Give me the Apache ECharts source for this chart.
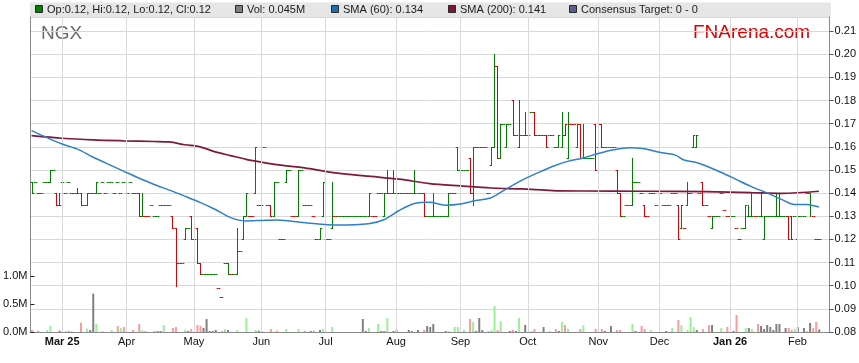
<!DOCTYPE html>
<html><head><meta charset="utf-8">
<script src="https://cdn.jsdelivr.net/npm/echarts@6/dist/echarts.min.js"></script>
<style>html,body{margin:0;padding:0;background:#fff}#c{width:859px;height:363px}</style>
</head><body><div id="c"></div>
<script>
// ---------- data ----------
const firstDay = [2025, 1, 17];   // weekday axis starts Mon 17 Feb 2025
const dayCount = 261;
const monthTickIdx  = [10, 31, 53, 75, 96, 119, 140, 162, 185, 205, 228, 250];
const monthTickText = ['Mar 25','Apr','May','Jun','Jul','Aug','Sep','Oct','Nov','Dec','Jan 26','Feb'];
const boldTicks = ['Mar 25', 'Jan 26'];

const open = [.145,.145,.14,.14,.145,.145,.145,.15,.14,.135,
 .145,.14,.145,.14,.14,.14,.14,.135,.135,.14,
 .14,.14,.14,.145,.14,.145,.145,.14,.145,.14,
 .145,.14,.145,.14,.14,.14,.13,.13,.13,.135,
 .13,.13,.135,.135,.135,.135,.13,.125,.11,.11,
 .12,.125,.13,.12,.125,.11,.105,.105,.105,.105,
 .105,.099,.095,.11,.11,.105,.105,.105,.115,.12,
 .13,.13,.13,.14,.135,.135,.16,.135,.135,.13,
 .145,.12,.12,.145,.15,.13,.13,.13,.15,.135,
 .135,.135,.13,.12,.12,.13,.12,.12,.125,.13,
 .13,.13,.13,.13,.13,.13,.13,.13,.13,.13,
 .13,.13,.13,.14,.14,.13,.14,.14,.14,.14,
 .14,.14,.14,.14,.14,.14,.14,.14,.14,.13,
 .13,.13,.13,.13,.13,.13,.13,.14,.14,.16,
 .15,.15,.15,.155,.14,.16,.16,.16,.16,.14,
 .152,.16,.195,.155,.17,.16,.17,.18,.165,.16,
 .165,.165,.165,.175,.175,.165,.165,.165,.165,.165,
 .165,.16,.16,.16,.165,.155,.17,.17,.16,.17,
 .155,.155,.155,.155,.17,.16,.17,.16,.16,.16,
 .16,.15,.14,.13,.135,.135,.135,.145,.145,.14,
 .135,.13,.14,.14,.135,.14,.135,.135,.135,.14,
 .14,.135,.125,.125,.135,.14,.16,.16,.14,.145,
 .135,.13,.125,.13,.13,.14,.1325,.13,.13,.13,
 .125,.12,.125,.125,.13,.13,.13,.13,.13,.12,
 .13,.13,.13,.13,.13,.13,.13,.13,.13,.13,
 .12,.13,.13,.14,.14,.13,.12,.12,null,null,null];

const high = [.145,.145,.14,.14,.145,.145,.15,.15,.14,.14,
 .145,.14,.145,.14,.14,.142,.14,.135,.14,.14,
 .14,.145,.14,.145,.14,.145,.145,.14,.145,.14,
 .145,.14,.145,.14,.14,.14,.14,.13,.13,.135,
 .13,.13,.135,.135,.135,.135,.13,.125,.11,.11,
 .125,.125,.13,.12,.125,.11,.105,.105,.105,.105,
 .105,.099,.095,.11,.11,.105,.105,.125,.115,.13,
 .14,.13,.13,.16,.135,.135,.16,.135,.135,.145,
 .145,.12,.12,.15,.15,.13,.13,.15,.15,.135,
 .135,.135,.13,.12,.125,.145,.12,.12,.145,.13,
 .13,.13,.13,.13,.13,.13,.13,.13,.13,.13,
 .14,.13,.13,.14,.14,.14,.15,.14,.15,.15,
 .14,.14,.14,.14,.14,.15,.14,.14,.14,.13,
 .13,.14,.13,.13,.13,.13,.14,.14,.14,.16,
 .15,.15,.15,.155,.16,.16,.16,.16,.16,.14,
 .16,.20,.195,.17,.17,.17,.17,.18,.165,.18,
 .165,.175,.165,.175,.175,.165,.165,.165,.165,.165,
 .165,.16,.165,.175,.17,.175,.17,.17,.17,.17,
 .17,.155,.155,.155,.17,.17,.17,.16,.16,.16,
 .16,.15,.14,.13,.135,.135,.155,.145,.145,.14,
 .135,.13,.14,.14,.135,.14,.135,.135,.135,.14,
 .14,.135,.135,.125,.145,.14,.165,.165,.14,.145,
 .135,.13,.13,.13,.13,.14,.1325,.13,.13,.13,
 .125,.12,.125,.135,.135,.14,.13,.13,.14,.13,
 .13,.13,.13,.14,.14,.13,.13,.13,.13,.13,
 .13,.13,.13,.14,.14,.13,.12,.12,null,null,null];

const low = [.14,.145,.14,.14,.145,.145,.145,.15,.135,.135,
 .145,.14,.145,.14,.14,.14,.135,.135,.135,.14,
 .14,.14,.14,.145,.14,.145,.145,.14,.145,.14,
 .145,.14,.145,.14,.14,.13,.13,.13,.13,.135,
 .13,.13,.135,.135,.135,.135,.125,.10,.11,.11,
 .12,.125,.12,.12,.11,.105,.105,.105,.105,.105,
 .105,.099,.095,.11,.105,.105,.105,.105,.115,.12,
 .13,.13,.13,.14,.135,.135,.16,.135,.13,.13,
 .145,.12,.12,.145,.15,.13,.13,.13,.15,.135,
 .135,.135,.13,.12,.12,.13,.12,.12,.125,.13,
 .13,.13,.13,.13,.13,.13,.13,.13,.13,.13,
 .13,.13,.13,.14,.14,.13,.14,.14,.14,.14,
 .14,.14,.14,.14,.14,.14,.14,.14,.13,.13,
 .13,.13,.13,.13,.13,.13,.13,.14,.14,.15,
 .15,.15,.15,.14,.135,.16,.16,.16,.16,.14,
 .152,.16,.155,.155,.17,.16,.17,.165,.165,.16,
 .165,.165,.165,.175,.165,.165,.165,.165,.16,.165,
 .165,.16,.16,.16,.165,.155,.17,.17,.16,.155,
 .155,.155,.155,.155,.15,.16,.16,.16,.16,.16,
 .16,.14,.13,.13,.135,.135,.135,.145,.145,.14,
 .13,.13,.14,.14,.135,.14,.135,.135,.135,.14,
 .14,.12,.125,.125,.135,.14,.16,.16,.14,.135,
 .135,.13,.125,.13,.13,.14,.1325,.13,.13,.13,
 .125,.12,.125,.125,.13,.13,.13,.13,.13,.12,
 .13,.13,.13,.13,.13,.13,.13,.12,.12,.13,
 .12,.13,.13,.14,.13,.13,.12,.12,null,null,null];

const close = [.14,.145,.14,.14,.145,.145,.15,.15,.135,.135,
 .145,.14,.145,.14,.14,.14,.135,.135,.14,.14,
 .14,.145,.14,.145,.14,.145,.145,.14,.145,.14,
 .145,.14,.145,.14,.14,.13,.13,.13,.13,.135,
 .13,.13,.135,.135,.135,.135,.125,.11,.11,.11,
 .125,.125,.12,.12,.11,.105,.105,.105,.105,.105,
 .105,.099,.095,.11,.105,.105,.105,.115,.115,.13,
 .14,.13,.13,.16,.135,.135,.16,.135,.13,.145,
 .145,.12,.12,.15,.15,.13,.13,.15,.15,.135,
 .135,.135,.13,.12,.125,.145,.12,.12,.13,.13,
 .13,.13,.13,.13,.13,.13,.13,.13,.13,.13,
 .14,.13,.13,.14,.14,.14,.14,.14,.14,.14,
 .14,.14,.14,.14,.14,.14,.14,.14,.13,.13,
 .13,.13,.13,.13,.13,.13,.14,.14,.14,.15,
 .15,.15,.15,.14,.16,.16,.16,.16,.16,.14,
 .16,.195,.155,.17,.17,.17,.17,.165,.165,.165,
 .165,.165,.165,.175,.165,.165,.165,.165,.16,.165,
 .165,.16,.165,.165,.17,.17,.17,.17,.17,.155,
 .155,.155,.155,.155,.15,.17,.16,.16,.16,.16,
 .16,.14,.13,.13,.135,.135,.145,.145,.145,.14,
 .13,.13,.14,.14,.135,.14,.135,.135,.135,.14,
 .14,.12,.135,.125,.14,.14,.165,.165,.14,.135,
 .135,.13,.13,.13,.13,.14,.1325,.13,.13,.13,
 .125,.12,.125,.135,.13,.13,.13,.13,.13,.13,
 .13,.13,.13,.13,.13,.13,.13,.12,.12,.13,
 .13,.13,.13,.14,.135,.13,.12,.12,null,null,null];

// 1 = up day (green), 0 = down day (red)
const upDay = [1,1,0,0,1,1,1,1,0,1, 1,0,1,0,0,1,0,1,1,1, 1,1,0,1,0,1,1,0,1,0,
 1,0,1,0,0,0,1,0,0,1, 1,1,1,1,1,1,0,0,1,1, 1,1,0,0,0,0,1,1,1,1,
 1,0,0,1,1,0,1,1,1,1, 1,0,0,1,0,0,1,0,0,1, 1,0,0,1,1,0,0,1,1,0,
 1,1,0,0,1,1,0,0,1,0, 1,1,1,1,1,1,1,1,1,1, 1,0,0,1,1,1,1,0,1,1,
 1,1,1,1,1,1,1,1,0,1, 1,1,1,1,1,1,1,1,0,1, 1,1,1,0,1,1,1,1,1,0,
 1,1,0,1,1,1,1,0,0,1, 0,1,1,1,0,0,0,0,0,1, 1,0,1,1,0,1,0,0,1,0,
 1,1,1,1,0,1,0,1,1,1, 1,0,0,1,1,1,1,1,1,0, 0,0,1,1,0,1,1,1,1,1,
 1,0,1,0,1,1,1,1,1,0, 0,0,1,1,1,1,0,0,1,1, 0,0,1,1,1,1,0,1,1,1,
 1,1,1,1,1,1,1,0,0,1, 1,1,1,1,1,0,0,0,0,0,0];

// volume (millions): day index, value, tone (1 up, 0 down, 2 unchanged)
const volDay = [0,2,5,6,9,11,12,13,16,18,19,20,21,23,26,28,29,30,33,35,36,37,40,41,42,43,46,47,50,51,52,54,55,56,57,58,59,60,62,63,64,67,70,73,74,75,78,80,83,87,89,91,92,94,95,98,108,109,110,113,114,115,116,118,119,123,124,126,128,129,130,131,135,136,138,139,141,143,144,145,146,147,149,150,151,152,153,156,157,158,159,161,163,164,167,169,171,172,173,174,175,179,180,184,186,187,189,191,192,196,197,199,200,202,207,209,211,212,214,215,216,217,219,221,222,225,227,229,230,233,234,235,237,238,239,240,241,242,243,244,246,247,248,249,250,252,253,254,255,256,257];
const volume = [.035,.024,.036,.107,.024,.018,.024,.018,.167,.06,.036,.685,.143,.018,.036,.107,.071,.089,.036,.143,.036,.018,.018,.018,.018,.125,.071,.089,.036,.018,.054,.125,.113,.071,.232,.018,.018,.036,.018,.048,.036,.036,.25,.036,.024,.018,.054,.024,.054,.054,.024,.018,.024,.036,.054,.089,.232,.018,.071,.143,.018,.018,.25,.018,.036,.036,.018,.036,.036,.107,.089,.143,.018,.018,.089,.089,.036,.232,.179,.018,.25,.036,.018,.036,.464,.036,.196,.018,.036,.018,.25,.125,.018,.054,.089,.018,.054,.018,.179,.125,.054,.054,.125,.054,.054,.018,.107,.036,.036,.143,.018,.107,.054,.036,.018,.071,.214,.125,.036,.268,.089,.036,.054,.125,.125,.071,.089,.018,.304,.071,.071,.054,.143,.107,.054,.125,.089,.036,.143,.143,.071,.071,.036,.054,.089,.071,.018,.161,.071,.179,.045];
const volTone = [0,0,1,1,2,1,0,1,0,1,2,2,1,1,1,0,1,0,0,0,1,0,0,2,2,1,0,0,1,2,0,0,0,2,2,2,2,2,0,1,2,1,1,1,2,0,0,0,1,1,0,2,0,2,1,1,2,2,1,1,2,2,1,2,2,2,2,2,0,2,2,2,2,1,1,1,1,0,1,2,2,2,0,1,1,0,1,2,0,2,1,2,1,0,2,1,0,2,1,0,1,0,1,0,0,2,2,0,0,1,2,0,0,1,2,1,0,1,1,1,1,2,0,0,2,1,0,2,0,1,2,1,0,2,2,2,2,2,2,2,2,0,0,1,2,2,1,2,0,0,2];

// moving averages: day index / value
const sma60Day = [0,5,10,15,20,25,30,35,40,45,50,55,60,65,70,75,80,90,100,110,115,120,125,130,135,140,145,150,155,160,165,170,175,180,185,190,195,200,205,210,213,217,220,225,230,235,240,245,249,253,257];
const sma60 = [.167,.164,.1612,.159,.1556,.1525,.1495,.1465,.1437,.1413,.1387,.136,.1329,.1294,.128,.1282,.1284,.1271,.1262,.1268,.1285,.1325,.1355,.136,.1348,.1353,.1368,.138,.1418,.1455,.1486,.1515,.1537,.1552,.1571,.1587,.1596,.1592,.1576,.1565,.1543,.1532,.1518,.149,.1459,.1428,.1401,.1372,.1351,.1351,.134];
const sma200Day = [0,10,20,30,40,45,50,55,60,65,70,75,80,90,100,110,120,130,140,150,160,170,180,200,220,235,245,257];
const sma200 = [.1648,.1637,.163,.1626,.1623,.1621,.1609,.160,.1578,.1562,.1546,.1534,.1523,.1507,.1486,.1473,.146,.1441,.1431,.1422,.1418,.1411,.1409,.1408,.1406,.1402,.1399,.1408];

const legendItems = [
  {text: 'Op:0.12, Hi:0.12, Lo:0.12, Cl:0.12', color: '#008000'},
  {text: 'Vol: 0.045M', color: '#808080'},
  {text: 'SMA (60): 0.134', color: '#1f6fb0'},
  {text: 'SMA (200): 0.141', color: '#7d1535'},
  {text: 'Consensus Target: 0 - 0', color: '#5b5f8e'}
];

// ---------- build ----------
const categories = [];
(function () {
  const d = new Date(Date.UTC(firstDay[0], firstDay[1], firstDay[2]));
  while (categories.length < dayCount) {
    const w = d.getUTCDay();
    if (w !== 0 && w !== 6) categories.push(d.toISOString().slice(0, 10));
    d.setUTCDate(d.getUTCDate() + 1);
  }
})();
const tickLabel = {};
monthTickIdx.forEach((i, k) => tickLabel[i] = monthTickText[k]);

const ohlc = [];
for (let i = 0; i < dayCount; i++) {
  if (close[i] == null) continue;
  ohlc.push([i, open[i], high[i], low[i], close[i], upDay[i]]);
}
const toneColor = ['#ff9a9a', '#99f099', '#808080'];
const volData = volDay.map((d, k) => ({value: [d, volume[k]], itemStyle: {color: toneColor[volTone[k]]}}));

const FONT = '"Liberation Sans", Arial, sans-serif';
const GREEN = '#008000', RED = '#dd0000';

function renderOHLC(params, api) {
  const i = api.value(0);
  const o = api.value(1), h = api.value(2), l = api.value(3), c = api.value(4);
  const up = api.value(5);
  if (isNaN(c)) return;
  const col = up ? GREEN : RED;
  const px = api.coord([i, c])[0];
  const x = Math.round(px) + 0.5;
  const half = api.size([1, 0])[0] / 2 + 0.3;
  const r = v => Math.round(v) + 0.5;
  const yO = r(api.coord([i, o])[1]), yC = r(api.coord([i, c])[1]);
  const yH = r(api.coord([i, h])[1]), yL = r(api.coord([i, l])[1]);
  const st = {stroke: col, lineWidth: 1};
  const ch = [
    {type: 'line', shape: {x1: x - half, y1: yO, x2: x, y2: yO}, style: st},
    {type: 'line', shape: {x1: x, y1: yC, x2: x + half, y2: yC}, style: st}
  ];
  if (yL - yH > 0.5) ch.push({type: 'line', shape: {x1: x, y1: yH - 0.5, x2: x, y2: yL + 0.5}, style: st});
  return {type: 'group', children: ch};
}

const graphics = [
  {type: 'rect', shape: {x: 30, y: 2.5, width: 801, height: 14.5}, style: {fill: '#e6e6e6'}, z: 0},
  {type: 'text', x: 41, y: 34, style: {text: 'NGX', font: '19px ' + FONT, fill: '#6b6b6b', textVerticalAlign: 'middle'}},
  {type: 'text', x: 693, y: 33, style: {text: 'FNArena.com', font: '19px ' + FONT, fill: '#dd0000', textVerticalAlign: 'middle'}}
];
const legendX = [35.5, 235.5, 331.5, 448.5, 569.5];
legendItems.forEach((it, k) => {
  graphics.push({type: 'rect', shape: {x: legendX[k], y: 5.5, width: 7, height: 7},
    style: {fill: it.color, stroke: '#2a2a2a', lineWidth: 1}, z: 2});
  graphics.push({type: 'text', x: legendX[k] + 11.5, y: 9.5,
    style: {text: it.text, font: '11px ' + FONT, fill: '#1a1a1a', textVerticalAlign: 'middle'}, z: 2});
});

const chart = echarts.init(document.getElementById('c'), null, {renderer: 'canvas'});
chart.setOption({
  animation: false,
  backgroundColor: '#ffffff',
  graphic: graphics,
  grid: [
    {left: 30, right: 29, top: 17, bottom: 31},
    {left: 30, right: 29, top: 276, height: 56}
  ],
  xAxis: [
    {type: 'category', gridIndex: 0, data: categories, boundaryGap: true,
     axisLine: {show: true, lineStyle: {color: '#8a8a8a'}},
     axisTick: {show: false}, splitLine: {show: false},
     axisLabel: {interval: (idx) => tickLabel[idx] !== undefined, margin: 4,
       fontSize: 11, fontFamily: FONT, color: '#111',
       formatter: (v, idx) => {
         const t = tickLabel[idx]; if (t === undefined) return '';
         return boldTicks.includes(t) ? '{b|' + t + '}' : t;
       },
       rich: {b: {fontWeight: 'bold', fontSize: 11, fontFamily: FONT, color: '#111'}}}},
    {type: 'category', gridIndex: 1, data: categories, boundaryGap: true, show: false}
  ],
  yAxis: [
    {type: 'value', gridIndex: 0, position: 'right', min: 0.08, max: 0.08 + 315 / 2315, interval: 0.01,
     axisLine: {show: true, lineStyle: {color: '#8a8a8a'}},
     axisTick: {show: true, length: 4, lineStyle: {color: '#555'}},
     axisLabel: {margin: 5, fontSize: 11, fontFamily: FONT, color: '#111', showMaxLabel: false,
       formatter: v => (v > 0.2105 ? '' : v.toFixed(2))},
     splitLine: {show: true, lineStyle: {color: '#d9d9d9', width: 1}}},
    {type: 'value', gridIndex: 0, position: 'left', min: 0, max: 1,
     axisLine: {show: true, lineStyle: {color: '#8a8a8a'}},
     axisTick: {show: false}, axisLabel: {show: false}, splitLine: {show: false}},
    {type: 'value', gridIndex: 1, position: 'left', min: 0, max: 1, interval: 0.5,
     axisLine: {show: false}, splitLine: {show: false},
     axisTick: {show: true, inside: true, length: 4, lineStyle: {color: '#222'}},
     axisLabel: {margin: 3, fontSize: 11, fontFamily: FONT, color: '#111',
       formatter: v => v.toFixed(1) + 'M'}}
  ],
  series: [
    {type: 'line', xAxisIndex: 0, yAxisIndex: 0, data: [], z: 1, silent: true,
     markLine: {silent: true, symbol: ['none', 'none'], label: {show: false}, animation: false,
       lineStyle: {color: '#d9d9d9', width: 1, type: 'solid'},
       emphasis: {disabled: true},
       data: monthTickIdx.map(i => ({xAxis: i}))}},
    {type: 'bar', xAxisIndex: 1, yAxisIndex: 2, data: volData, barWidth: 2, z: 2, silent: true},
    {type: 'custom', xAxisIndex: 0, yAxisIndex: 0, data: ohlc, renderItem: renderOHLC, z: 3,
     encode: {x: 0, y: [1, 2, 3, 4]}, silent: true},
    {type: 'line', xAxisIndex: 0, yAxisIndex: 0, data: sma200Day.map((d, k) => [d, sma200[k]]),
     smooth: 0.3, symbol: 'none', z: 4, silent: true, lineStyle: {color: '#7d1a3c', width: 1.7}},
    {type: 'line', xAxisIndex: 0, yAxisIndex: 0, data: sma60Day.map((d, k) => [d, sma60[k]]),
     smooth: 0.3, symbol: 'none', z: 5, silent: true, lineStyle: {color: '#2f80c4', width: 1.5}}
  ]
});
</script>
</body></html>
